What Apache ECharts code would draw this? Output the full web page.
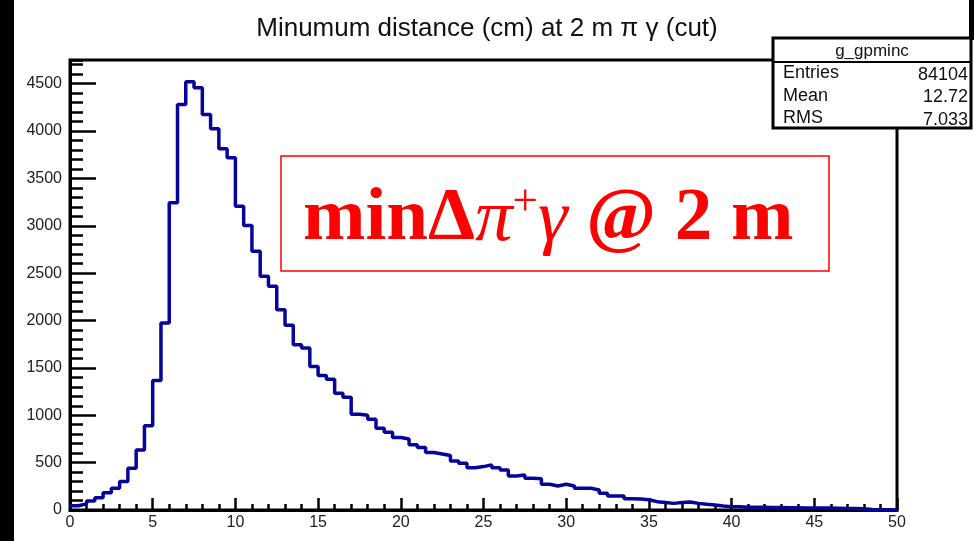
<!DOCTYPE html>
<html>
<head>
<meta charset="utf-8">
<title>Minumum distance (cm) at 2 m π γ (cut)</title>
<script src="https://cdn.jsdelivr.net/npm/echarts@6/dist/echarts.min.js"></script>
<style>
  html, body { margin: 0; padding: 0; background: #ffffff; }
  #chart { width: 974px; height: 541px; }
</style>
</head>
<body>
<div id="chart"></div>
<script>
// Histogram g_gpminc: 100 bins of 0.5 cm between 0 and 50 cm
const binLow = 0;
const binWidth = 0.5;
const binCounts = [
  45, 65, 95, 130, 183, 229, 300, 440, 634, 888,
  1367, 1973, 3242, 4281, 4521, 4457, 4175, 4024, 3813, 3717,
  3206, 3002, 2731, 2467, 2361, 2114, 1949, 1744, 1709, 1515,
  1420, 1381, 1233, 1191, 1011, 1001, 958, 863, 821, 765,
  750, 690, 660, 606, 592, 576, 518, 493, 447, 458,
  476, 447, 423, 359, 370, 335, 330, 271, 254, 271,
  254, 229, 229, 211, 176, 148, 148, 120, 116, 108,
  88, 80, 70, 78, 85, 70, 60, 53, 42, 35,
  35, 30, 28, 28, 27, 26, 25, 24, 22, 22,
  20, 20, 18, 16, 15, 12, 6, 3, 2, 1
];

// Statistics panel
const statsName = 'g_gpminc';
const statsRows = [
  ['Entries', '84104'],
  ['Mean', '12.72'],
  ['RMS', '7.033']
];

const titleText = 'Minumum distance (cm) at 2 m \u03c0 \u03b3 (cut)';

// Step outline: one point per lower bin edge plus the closing upper edge
const outline = binCounts.map((c, i) => [binLow + i * binWidth, c]);
outline.push([binLow + binCounts.length * binWidth, binCounts[binCounts.length - 1]]);

const chart = echarts.init(document.getElementById('chart'), null, { renderer: 'canvas' });

const sans = 'Liberation Sans, Arial, sans-serif';
const serif = 'Liberation Serif, Times New Roman, serif';

const statsGraphics = [];
const boxX = 773, boxY = 38, boxW = 198, boxH = 90;
statsGraphics.push({
  type: 'rect', z: 100,
  shape: { x: boxX, y: boxY, width: boxW, height: boxH },
  style: { fill: '#ffffff', stroke: '#000000', lineWidth: 3 }
});
statsGraphics.push({
  type: 'text', z: 101,
  style: { x: boxX + boxW / 2, y: 51, text: statsName, fill: '#111', font: '17px ' + sans, textAlign: 'center', textVerticalAlign: 'middle' }
});
statsGraphics.push({
  type: 'line', z: 102,
  shape: { x1: boxX, y1: 62, x2: boxX + boxW, y2: 62 },
  style: { stroke: '#000000', lineWidth: 2 }
});
statsRows.forEach((r, i) => {
  const y = 73.5 + i * 22.3;
  statsGraphics.push({
    type: 'text', z: 101,
    style: { x: 783, y: y, text: r[0], fill: '#111', font: '18px ' + sans, textAlign: 'left', textVerticalAlign: 'middle' }
  });
  statsGraphics.push({
    type: 'text', z: 101,
    style: { x: 968, y: y + 1.5, text: r[1], fill: '#111', font: '18px ' + sans, textAlign: 'right', textVerticalAlign: 'middle' }
  });
});

const option = {
  backgroundColor: '#ffffff',
  animation: false,
  title: {
    text: titleText,
    left: 'center',
    top: 11,
    textStyle: { fontFamily: sans, fontSize: 26, fontWeight: 'normal', color: '#111' }
  },
  grid: {
    left: 70, right: 77, top: 60, bottom: 31,
    show: true, borderColor: '#000000', borderWidth: 3, backgroundColor: 'transparent'
  },
  xAxis: {
    type: 'value', min: 0, max: 50, interval: 5,
    axisLine: { show: true, lineStyle: { color: '#000', width: 3 } },
    axisTick: { show: true, inside: true, length: 12, lineStyle: { color: '#000', width: 2.5 } },
    minorTick: { show: true, splitNumber: 5, length: 6, lineStyle: { color: '#000', width: 2.5 } },
    axisLabel: { fontFamily: sans, fontSize: 16, color: '#222', margin: 5 },
    splitLine: { show: false }
  },
  yAxis: [
    {
      type: 'value', min: 0, max: 4750, interval: 500,
      axisLine: { show: true, lineStyle: { color: '#000', width: 3 } },
      axisTick: { show: true, inside: true, length: 26, lineStyle: { color: '#000', width: 2.5 } },
      axisLabel: { fontFamily: sans, fontSize: 16, color: '#222', margin: 8, showMaxLabel: false, formatter: v => String(v) },
      splitLine: { show: false }
    },
    {
      type: 'value', min: 0, max: 4750, interval: 100, position: 'left',
      axisLine: { show: false },
      axisTick: { show: true, inside: true, length: 13, lineStyle: { color: '#000', width: 2.5 } },
      axisLabel: { show: false },
      splitLine: { show: false }
    }
  ],
  series: [{
    type: 'line',
    name: statsName,
    data: outline,
    step: 'end',
    showSymbol: false,
    symbol: 'none',
    lineStyle: { color: '#05059c', width: 3.5 },
    z: 5
  }],
  graphic: [
    // slide edges
    { type: 'rect', z: 90, shape: { x: 0, y: 0, width: 14, height: 541 }, style: { fill: '#000' } },
    { type: 'rect', z: 90, shape: { x: 969, y: 0, width: 5, height: 40 }, style: { fill: '#000' } },
    // annotation box
    {
      type: 'rect', z: 80,
      shape: { x: 281, y: 156, width: 548, height: 115 },
      style: { fill: '#ffffff', stroke: '#ff0000', lineWidth: 1.5 }
    },
    {
      type: 'text', z: 81,
      style: {
        x: 303, y: 220,
        text: '{b|min\u0394}{i|\u03c0}{s|+}{i|\u03b3}{b| @ 2 m}',
        fill: '#ff0000',
        textAlign: 'left', textVerticalAlign: 'middle',
        rich: {
          b: { fontFamily: serif, fontWeight: 'bold', fontSize: 75, fill: '#ff0000', lineHeight: 78 },
          i: { fontFamily: serif, fontStyle: 'italic', fontSize: 75, fill: '#ff0000', lineHeight: 78 },
          s: { fontFamily: serif, fontSize: 45, fill: '#ff0000', verticalAlign: 'top', lineHeight: 78 }
        }
      }
    }
  ].concat(statsGraphics)
};

chart.setOption(option);
</script>
</body>
</html>
